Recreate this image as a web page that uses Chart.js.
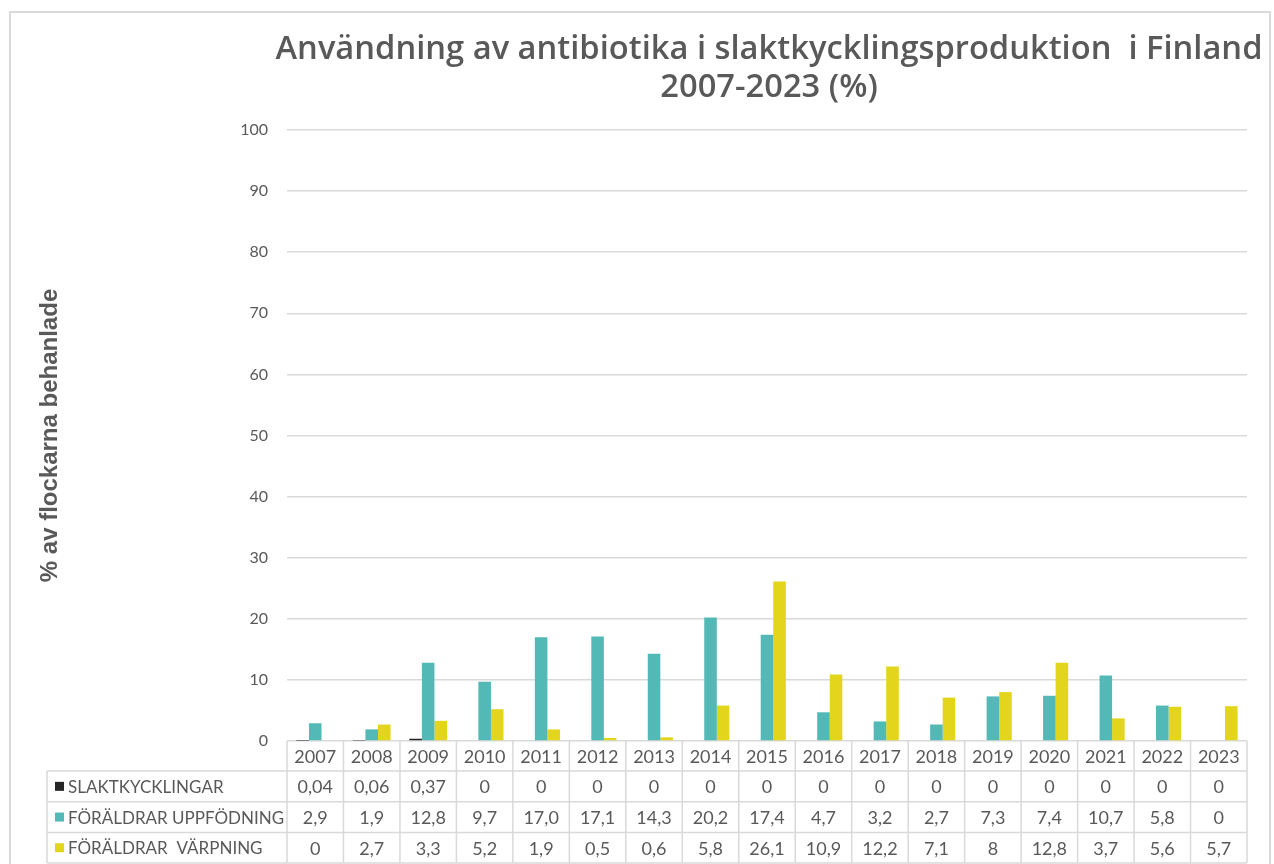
<!DOCTYPE html>
<html>
<head>
<meta charset="utf-8">
<script src="https://cdn.jsdelivr.net/npm/chart.js@4"></script>
<style>
  body { margin: 0; background: #ffffff; }
  #box { width: 1274px; height: 864px; }
</style>
</head>
<body>
<div id="box"><canvas id="antibiotikaChart" width="1274" height="864"></canvas></div>
<script>
var years = ["2007", "2008", "2009", "2010", "2011", "2012", "2013", "2014", "2015", "2016", "2017", "2018", "2019", "2020", "2021", "2022", "2023"];
var seriesNames = ["SLAKTKYCKLINGAR", "FÖRÄLDRAR UPPFÖDNING", "FÖRÄLDRAR  VÄRPNING"];
var slaktkycklingar = [0.04, 0.06, 0.37, 0, 0, 0, 0, 0, 0, 0, 0, 0, 0, 0, 0, 0, 0];
var foraldrarUppfodning = [2.9, 1.9, 12.8, 9.7, 17.0, 17.1, 14.3, 20.2, 17.4, 4.7, 3.2, 2.7, 7.3, 7.4, 10.7, 5.8, 0];
var foraldrarVarpning = [0, 2.7, 3.3, 5.2, 1.9, 0.5, 0.6, 5.8, 26.1, 10.9, 12.2, 7.1, 8, 12.8, 3.7, 5.6, 5.7];
var yTicks = [0, 10, 20, 30, 40, 50, 60, 70, 80, 90, 100];
var titleLines = ["Användning av antibiotika i slaktkycklingsproduktion  i Finland", "2007-2023 (%)"];

var textColor = "#595959";
var lineColor = "#d9d9d9";
var colors = ["#262626", "#52b9b7", "#e3d41c"];

function fmtPlain(v)
{
    return String(v).replace(".", ",");
}

function fmtOneDecimal(v)
{
    if (v === 0) return "0";
    return v.toFixed(1).replace(".", ",");
}

var formatters = [fmtPlain, fmtOneDecimal, fmtPlain];

// outer frame of the chart + title (title is wider than the plot, so drawn here)
var framePlugin = {
    id: "frame",
    beforeDraw: function (chart) {
        var ctx = chart.ctx;
        ctx.save();
        ctx.fillStyle = "#ffffff";
        ctx.fillRect(0, 0, chart.width, chart.height);
        ctx.strokeStyle = lineColor;
        ctx.lineWidth = 2;
        ctx.strokeRect(10, 12, 1260, 900);
        ctx.restore();
    },
    afterDraw: function (chart) {
        var ctx = chart.ctx;
        var area = chart.chartArea;
        var cx = (area.left + area.right) / 2 + 2;
        ctx.save();
        ctx.fillStyle = textColor;
        ctx.font = "600 32.7px 'Open Sans'";
        ctx.textAlign = "center";
        ctx.textBaseline = "middle";
        for (var i = 0; i < titleLines.length; i++)
        {
            ctx.fillText(titleLines[i], cx, 50 + i * 38);
        }
        ctx.restore();
    }
};

// data table under the x axis
var tablePlugin = {
    id: "dataTable",
    afterDraw: function (chart) {
        var ctx = chart.ctx;
        var area = chart.chartArea;
        var xScale = chart.scales.x;
        var colW = (area.right - area.left) / years.length;
        var headerH = 30;
        var rowH = 30.7;
        var legendLeft = 47;
        var top = area.bottom;
        var bottom = top + headerH + rowH * seriesNames.length;

        ctx.save();
        ctx.strokeStyle = lineColor;
        ctx.lineWidth = 1.5;
        ctx.beginPath();
        for (var i = 0; i <= years.length; i++)
        {
            var x = area.left + i * colW;
            ctx.moveTo(x, top);
            ctx.lineTo(x, bottom);
        }
        ctx.moveTo(legendLeft, top + headerH);
        ctx.lineTo(legendLeft, bottom);
        for (var r = 0; r <= seriesNames.length; r++)
        {
            var y = top + headerH + r * rowH;
            ctx.moveTo(legendLeft, y);
            ctx.lineTo(area.right, y);
        }
        ctx.stroke();

        ctx.fillStyle = textColor;
        ctx.font = "18px Lato";
        ctx.textAlign = "center";
        ctx.textBaseline = "middle";
        var datasets = chart.data.datasets;
        for (var c = 0; c < years.length; c++)
        {
            var cx = xScale.getPixelForValue(c);
            ctx.fillText(years[c], cx, top + headerH / 2 + 1);
            for (var s = 0; s < datasets.length; s++)
            {
                var cy = top + headerH + rowH * s + rowH / 2 + 1;
                ctx.fillText(formatters[s](datasets[s].data[c]), cx, cy);
            }
        }

        ctx.textAlign = "left";
        ctx.font = "17px Lato";
        for (var k = 0; k < datasets.length; k++)
        {
            var ly = top + headerH + rowH * k + rowH / 2;
            ctx.fillStyle = datasets[k].backgroundColor;
            ctx.fillRect(55, ly - 4.5, 9, 9);
            ctx.fillStyle = textColor;
            ctx.fillText(datasets[k].label, 68, ly + 1);
        }
        ctx.restore();
    }
};

var chartElement = document.getElementById("antibiotikaChart");
var antibiotikaChart = new Chart(chartElement, {
    type: "bar",
    data: {
        labels: years,
        datasets: [
            {
                label: seriesNames[0],
                data: slaktkycklingar,
                backgroundColor: colors[0]
            },
            {
                label: seriesNames[1],
                data: foraldrarUppfodning,
                backgroundColor: colors[1]
            },
            {
                label: seriesNames[2],
                data: foraldrarVarpning,
                backgroundColor: colors[2]
            }
        ]
    },
    options: {
        responsive: false,
        animation: false,
        layout: {
            padding: { top: 130, right: 27, bottom: 115, left: 0 }
        },
        datasets: {
            bar: {
                categoryPercentage: 0.667,
                barPercentage: 1.0,
                borderWidth: 0
            }
        },
        plugins: {
            legend: { display: false },
            tooltip: { enabled: false },
            title: { display: false }
        },
        scales: {
            x: {
                ticks: { display: false },
                grid: { display: false },
                border: { display: false }
            },
            y: {
                min: 0,
                max: 100,
                afterBuildTicks: function (scale) {
                    scale.ticks = yTicks.map(function (v) { return { value: v }; });
                },
                afterFit: function (scale) {
                    scale.width = 287;
                },
                ticks: {
                    color: textColor,
                    font: { family: "Lato", size: 16 },
                    padding: 19
                },
                grid: {
                    color: lineColor,
                    lineWidth: 1.5,
                    drawTicks: false
                },
                border: { display: false },
                title: {
                    display: true,
                    text: "% av flockarna behanlade",
                    color: textColor,
                    font: { family: "'Liberation Sans'", size: 24, weight: "bold" },
                    padding: { top: 36 }
                }
            }
        }
    },
    plugins: [framePlugin, tablePlugin]
});
</script>
</body>
</html>
